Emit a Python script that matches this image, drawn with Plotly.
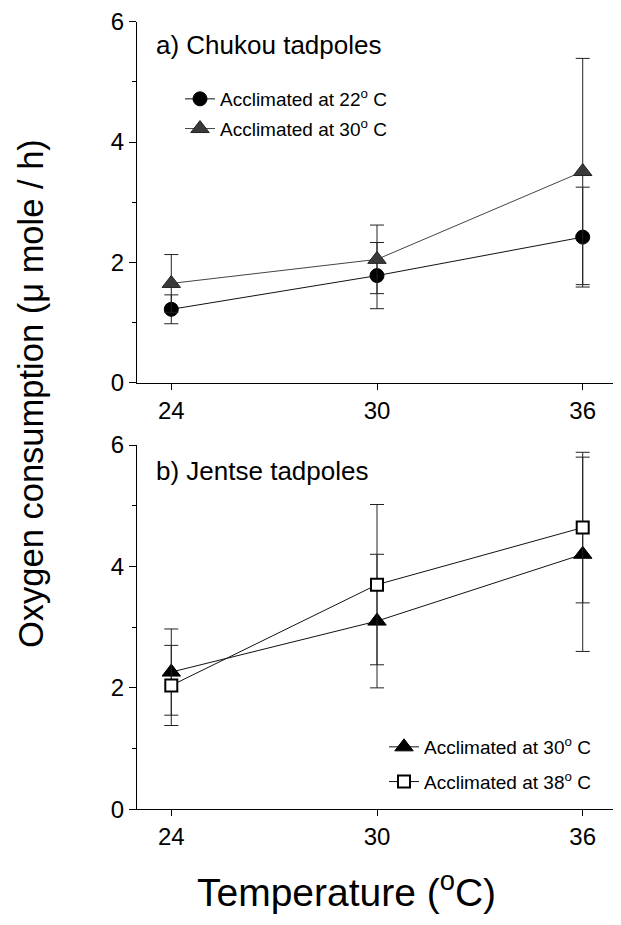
import plotly.graph_objects as go

# ---------------- data ----------------
temps = [24, 30, 36]
x_ticks = [24, 30, 36]
y_ticks = [0, 2, 4, 6]

# a) Chukou tadpoles
chukou_22_mean = [1.22, 1.78, 2.42]
chukou_22_err = [0.24, 0.55, 0.83]
chukou_30_mean = [1.65, 2.05, 3.51]
chukou_30_err = [0.48, 0.57, 1.88]

# b) Jentse tadpoles
jentse_30_mean = [2.26, 3.10, 4.20]
jentse_30_err = [0.71, 1.10, 1.60]
jentse_38_mean = [2.04, 3.70, 4.64]
jentse_38_err = [0.66, 1.32, 1.24]

FONT = "Liberation Sans, Arial, Helvetica, sans-serif"
# the page body has an 8px margin, so the figure is 8px smaller and all
# page positions are converted with that offset
OFF = 8
W, H = 621 - OFF, 925 - OFF

def px(xpage):
    return (xpage - OFF) / W

def py(ypage):
    return 1 - (ypage - OFF) / H

def err(arr):
    return dict(type="data", array=arr, visible=True, color="#222222",
                thickness=1, width=7)

fig = go.Figure()

# top panel
fig.add_trace(go.Scatter(
    x=temps, y=chukou_22_mean, error_y=err(chukou_22_err),
    mode="lines+markers", name="Acclimated at 22<sup>o</sup> C",
    line=dict(color="#111111", width=1),
    marker=dict(symbol="circle", size=14, color="black",
                line=dict(color="black", width=1)),
    xaxis="x", yaxis="y", legend="legend", legendgroup="a1"))
fig.add_trace(go.Scatter(
    x=temps, y=chukou_30_mean, error_y=err(chukou_30_err),
    mode="lines+markers", name="Acclimated at 30<sup>o</sup> C",
    line=dict(color="#444444", width=1),
    marker=dict(symbol="triangle-up", size=16, color="#3a3a3a",
                line=dict(color="#222222", width=1)),
    xaxis="x", yaxis="y", legend="legend", legendgroup="a2"))

# bottom panel
fig.add_trace(go.Scatter(
    x=temps, y=jentse_30_mean, error_y=err(jentse_30_err),
    mode="lines+markers", name="Acclimated at 30<sup>o</sup> C",
    line=dict(color="#111111", width=1),
    marker=dict(symbol="triangle-up", size=16, color="black",
                line=dict(color="black", width=1)),
    xaxis="x2", yaxis="y2", legend="legend2", legendgroup="b1"))
fig.add_trace(go.Scatter(
    x=temps, y=jentse_38_mean, error_y=err(jentse_38_err),
    mode="lines+markers", name="Acclimated at 38<sup>o</sup> C",
    line=dict(color="#111111", width=1),
    marker=dict(symbol="square", size=12, color="white",
                line=dict(color="black", width=2)),
    xaxis="x2", yaxis="y2", legend="legend2", legendgroup="b2"))

xdom = [px(137), min(1.0, px(617))]
top_dom = [py(382.7), py(21.7)]
bot_dom = [py(809.3), py(445)]

xcommon = dict(range=[23, 37], tickvals=x_ticks, ticktext=[str(v) for v in x_ticks],
               ticks="outside", ticklen=6, tickwidth=1, tickcolor="black",
               showline=True, linecolor="black", linewidth=1.3,
               showgrid=False, zeroline=False, domain=xdom, automargin=False,
               tickfont=dict(family=FONT, size=24, color="black"))
ycommon = dict(range=[0, 6], tickvals=y_ticks, ticktext=[str(v) for v in y_ticks],
               ticks="outside", ticklen=7, tickwidth=1, tickcolor="black",
               minor=dict(tickvals=[1, 3, 5], ticks="outside", ticklen=4,
                          tickcolor="black", tickwidth=1, showgrid=False),
               showline=True, linecolor="black", linewidth=1.3,
               showgrid=False, zeroline=False, automargin=False,
               tickfont=dict(family=FONT, size=24, color="black"))

fig.update_layout(
    width=W, height=H,
    margin=dict(l=0, r=0, t=0, b=0, autoexpand=False),
    paper_bgcolor="white", plot_bgcolor="white",
    font=dict(family=FONT, color="black"),
    showlegend=True,
    xaxis=dict(**xcommon, anchor="y"),
    yaxis=dict(**ycommon, domain=top_dom, anchor="x"),
    xaxis2=dict(**xcommon, anchor="y2"),
    yaxis2=dict(**ycommon, domain=bot_dom, anchor="x2"),
    legend=dict(x=px(180), y=py(80), xanchor="left", yanchor="top",
                bgcolor="rgba(0,0,0,0)", borderwidth=0,
                font=dict(family=FONT, size=19, color="black"),
                traceorder="grouped", tracegroupgap=2),
    legend2=dict(x=px(384), y=py(728), xanchor="left", yanchor="top",
                 bgcolor="rgba(0,0,0,0)", borderwidth=0,
                 font=dict(family=FONT, size=19, color="black"),
                 traceorder="grouped", tracegroupgap=7),
    annotations=[
        dict(text="a) Chukou tadpoles", x=px(154), y=py(45),
             xref="paper", yref="paper", xanchor="left", yanchor="middle",
             showarrow=False, font=dict(family=FONT, size=26, color="black")),
        dict(text="b) Jentse tadpoles", x=px(154), y=py(471),
             xref="paper", yref="paper", xanchor="left", yanchor="middle",
             showarrow=False, font=dict(family=FONT, size=26, color="black")),
        dict(text="Oxygen consumption (\u03bc mole / h)", x=px(31), y=py(394),
             xref="paper", yref="paper", xanchor="center", yanchor="middle",
             textangle=-90, showarrow=False,
             font=dict(family=FONT, size=34.5, color="black")),
        dict(text="Temperature (<sup>o</sup>C)", x=px(347), y=py(889),
             xref="paper", yref="paper", xanchor="center", yanchor="middle",
             showarrow=False, font=dict(family=FONT, size=39, color="black")),
    ],
)

fig.write_html("out.html")
